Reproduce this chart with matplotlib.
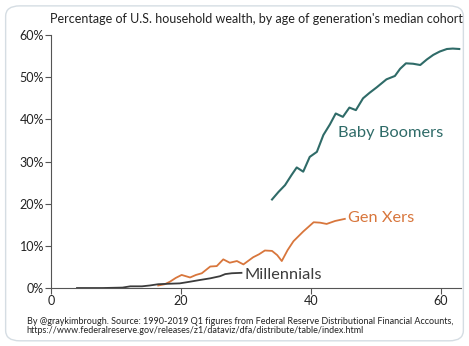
import matplotlib
matplotlib.use("Agg")
import matplotlib.pyplot as plt
from matplotlib.patches import FancyBboxPatch

plt.rcParams['font.family'] = ['Lato', 'DejaVu Sans']

# age of generation's median cohort vs share of household wealth (%)
boomer_age = [34.0, 35.0, 36.0, 37.0, 37.8, 38.8, 39.8, 40.9, 41.9, 42.9, 43.8, 44.9, 45.9,
              46.9, 48.0, 49.0, 50.1, 51.6, 52.9, 53.7, 54.6, 55.7, 56.8, 57.8, 58.8, 59.8,
              60.9, 61.8, 62.8]
boomer_share = [21.0, 22.8, 24.4, 26.8, 28.6, 27.6, 31.1, 32.3, 36.3, 38.8, 41.4, 40.6, 42.8,
                42.2, 45.0, 46.3, 47.6, 49.5, 50.3, 52.0, 53.3, 53.2, 52.9, 54.2, 55.3, 56.1,
                56.7, 56.8, 56.7]

genx_age = [16.5, 17.5, 18.3, 19.2, 20.1, 21.4, 22.3, 23.2, 24.5, 25.5, 26.5, 27.5, 28.6,
            29.6, 31.1, 32.0, 32.9, 34.0, 34.8, 35.5, 36.4, 37.3, 38.8, 40.4, 41.4, 42.4,
            43.7, 45.2]
genx_share = [0.6, 0.9, 1.5, 2.4, 3.1, 2.5, 3.1, 3.5, 5.1, 5.2, 6.8, 6.0, 6.4,
              5.6, 7.3, 8.0, 8.9, 8.8, 7.8, 6.4, 9.0, 11.1, 13.4, 15.6, 15.5, 15.2,
              15.9, 16.4]

mill_age = [4.0, 8.0, 11.0, 12.2, 14.0, 15.2, 16.5, 18.0, 19.8, 21.4, 22.9, 24.5, 26.0,
            26.8, 27.8, 29.3]
mill_share = [0.0, 0.0, 0.1, 0.4, 0.4, 0.6, 0.9, 1.0, 1.1, 1.5, 1.9, 2.3, 2.8,
              3.3, 3.5, 3.6]

x_ticks = [0, 20, 40, 60]
y_ticks = [0, 10, 20, 30, 40, 50, 60]

teal = '#2f6b68'
orange = '#d8763c'
dark = '#3c3c3c'
axis_col = '#555555'

fig = plt.figure(figsize=(4.69, 3.46), dpi=100)
fig.patches.append(FancyBboxPatch((0.012, 0.015), 0.976, 0.968, boxstyle='round,pad=0,rounding_size=0.03',
                                  transform=fig.transFigure, fc='white', ec='#d5dde3', lw=1.0, zorder=-5))
ax = fig.add_axes([0.1087, 0.1676, 0.8733, 0.731])
ax.patch.set_alpha(0)

ax.plot(boomer_age, boomer_share, color=teal, lw=1.5)
ax.plot(genx_age, genx_share, color=orange, lw=1.3)
ax.plot(mill_age, mill_share, color=dark, lw=1.3)

ax.text(44.2, 36.8, 'Baby Boomers', color=teal, fontsize=11.8, va='center')
ax.text(45.7, 16.6, 'Gen Xers', color=orange, fontsize=11.8, va='center')
ax.text(29.8, 3.2, 'Millennials', color=dark, fontsize=11.8, va='center')

ax.set_xlim(0, 63)
ax.set_ylim(0, 60)
ax.set_xticks(x_ticks)
ax.set_yticks(y_ticks)
ax.set_yticklabels([f'{v}%' for v in y_ticks])
for s in ['top', 'right']:
    ax.spines[s].set_visible(False)
for s in ['left', 'bottom']:
    ax.spines[s].set_color(axis_col)
    ax.spines[s].set_linewidth(0.8)
ax.tick_params(colors=axis_col, labelcolor='#222222', labelsize=9, length=4, width=0.8, pad=1)

fig.text(0.107, 0.945, "Percentage of U.S. household wealth, by age of generation's median cohort",
         fontsize=9.0, color='#222222', va='center')
fig.text(0.057, 0.057, 'By @graykimbrough. Source: 1990-2019 Q1 figures from Federal Reserve Distributional Financial Accounts,\n'
         'https://www.federalreserve.gov/releases/z1/dataviz/dfa/distribute/table/index.html',
         fontsize=6.5, color='#222222', va='center', linespacing=1.0)

fig.savefig('out.png', dpi=100)
